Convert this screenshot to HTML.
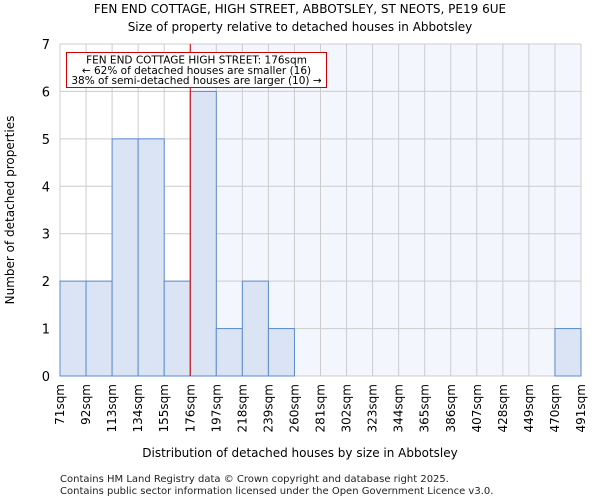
<!DOCTYPE html>
<html><head><meta charset="utf-8"><style>
body{margin:0;background:#fff;font-family:"DejaVu Sans","Liberation Sans",sans-serif;}
</style></head><body>
<svg width="600" height="500" xmlns="http://www.w3.org/2000/svg" font-family="DejaVu Sans, Liberation Sans, sans-serif">
<text x="300" y="13" font-size="12" text-anchor="middle">FEN END COTTAGE, HIGH STREET, ABBOTSLEY, ST NEOTS, PE19 6UE</text>
<text x="300" y="31" font-size="12" text-anchor="middle">Size of property relative to detached houses in Abbotsley</text>
<g id="plot"></g>
<text x="300" y="457" font-size="12" text-anchor="middle">Distribution of detached houses by size in Abbotsley</text>
<text transform="translate(14,210) rotate(-90)" font-size="12" text-anchor="middle">Number of detached properties</text>
<text x="60" y="482" font-size="10" fill="#222">Contains HM Land Registry data © Crown copyright and database right 2025.</text>
<text x="60" y="494" font-size="10" fill="#222">Contains public sector information licensed under the Open Government Licence v3.0.</text>
</svg>
<script>
const categories=["71sqm","92sqm","113sqm","134sqm","155sqm","176sqm","197sqm","218sqm","239sqm","260sqm","281sqm","302sqm","323sqm","344sqm","365sqm","386sqm","407sqm","428sqm","449sqm","470sqm","491sqm"];
const counts=[2,2,5,5,2,6,1,2,1,0,0,0,0,0,0,0,0,0,0,1];
const yTicks=[0,1,2,3,4,5,6,7];
const markerIndex=5;
const NS="http://www.w3.org/2000/svg";
const g=document.getElementById('plot');
const X0=60,X1=581,Y0=376,Y1=44,yMax=7,nb=counts.length;
const xs=i=>X0+(X1-X0)*i/nb;
const ys=v=>Y0-(Y0-Y1)*v/yMax;
function mk(t,a){const e=document.createElementNS(NS,t);for(const k in a)e.setAttribute(k,a[k]);g.appendChild(e);return e;}
let e;
e=mk('rect',{x:xs(markerIndex),y:Y1,width:X1-xs(markerIndex),height:Y0-Y1,fill:'#f3f6fd'});


for(let i=0;i<=nb;i++){e=mk('line',{x1:xs(i),x2:xs(i),y1:Y1,y2:Y0,stroke:'#ccc','stroke-width':1});

}
yTicks.forEach(v=>{e=mk('line',{x1:X0,x2:X1,y1:ys(v),y2:ys(v),stroke:'#ccc','stroke-width':1});


e=mk('text',{x:X0-10,y:ys(v)+5,'font-size':13,'text-anchor':'end'});e.textContent=v;

});
counts.forEach((c,i)=>{if(c>0){e=mk('rect',{x:xs(i),y:ys(c),width:xs(i+1)-xs(i),height:Y0-ys(c),fill:'#dae4f4',stroke:'#5b8bd0','stroke-width':1});

}});
categories.forEach((c,i)=>{const x=xs(i);e=mk('text',{transform:`translate(${x+4},384) rotate(-90)`,'font-size':12,'text-anchor':'end'});e.textContent=c;

});
e=mk('line',{x1:xs(markerIndex),x2:xs(markerIndex),y1:Y1,y2:Y0,stroke:'#cc0000','stroke-width':1});


e=mk('rect',{x:66.5,y:52.5,width:260,height:35,fill:'#fff',stroke:'#cc0000','stroke-width':1});


["FEN END COTTAGE HIGH STREET: 176sqm","← 62% of detached houses are smaller (16)","38% of semi-detached houses are larger (10) →"].forEach((t,i)=>{e=mk('text',{x:196.5,y:63.5+i*10.3,'font-size':10.5,'text-anchor':'middle'});e.textContent=t;

});
</script>
</body></html>
